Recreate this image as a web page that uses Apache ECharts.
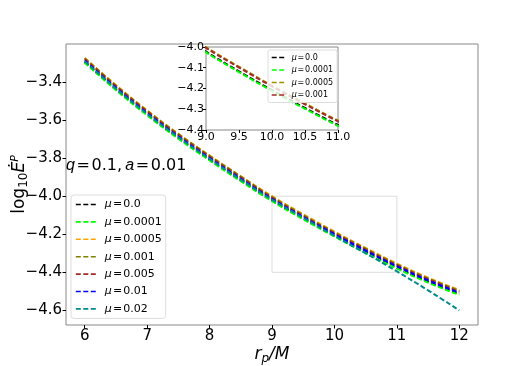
<!DOCTYPE html>
<html>
<head>
<meta charset="utf-8">
<script src="https://cdn.jsdelivr.net/npm/echarts@6/dist/echarts.min.js"></script>
<style>
  html, body { margin: 0; background: #fff; }
  #chart { width: 532px; height: 366px; }
</style>
</head>
<body>
<div id="chart"></div>
<script>
// orbital radius r_p/M
const rp = [6, 6.5, 7, 7.5, 8, 8.5, 9, 9.5, 10, 10.5, 11, 11.5, 12]
const xTicks = [6, 7, 8, 9, 10, 11, 12]
const yTicks = [-4.6, -4.4, -4.2, -4.0, -3.8, -3.6, -3.4]
const insetXTicks = [9, 9.5, 10, 10.5, 11]
const insetYTicks = [-4.4, -4.3, -4.2, -4.1, -4.0]
const muLabels = ['0.0', '0.0001', '0.0005', '0.001', '0.005', '0.01', '0.02']

// log10 of the flux, one array per mu
const mu0 = [-3.295, -3.438, -3.571, -3.694, -3.808, -3.917, -4.022, -4.117, -4.208, -4.294, -4.376, -4.450, -4.515]
const mu00001 = [-3.299, -3.442, -3.575, -3.698, -3.812, -3.921, -4.026, -4.121, -4.212, -4.298, -4.380, -4.454, -4.519]
const mu00005 = [-3.273, -3.416, -3.549, -3.672, -3.786, -3.895, -4.000, -4.095, -4.186, -4.272, -4.354, -4.428, -4.493]
const mu0001 = [-3.275, -3.418, -3.551, -3.674, -3.788, -3.897, -4.004, -4.099, -4.190, -4.276, -4.358, -4.432, -4.497]
const mu0005 = [-3.280, -3.423, -3.556, -3.679, -3.793, -3.902, -4.009, -4.104, -4.195, -4.281, -4.363, -4.437, -4.502]
const mu001 = [-3.287, -3.430, -3.563, -3.686, -3.800, -3.909, -4.014, -4.109, -4.200, -4.286, -4.368, -4.442, -4.507]
const mu002 = [-3.291, -3.434, -3.567, -3.690, -3.804, -3.913, -4.018, -4.113, -4.208, -4.300, -4.395, -4.495, -4.600]

// zoomed region shown in the inset: [xmin, xmax, ymin, ymax]
const zoomBox = [9, 11, -4.4, -4.0]

const mainSets = [mu0, mu00001, mu00005, mu0001, mu0005, mu001, mu002]
const mainColors = ['#000000', '#00ff00', '#ffa500', '#808000', '#a52a2a', '#0000ff', '#008b8b']
// the inset shows the first four curves, with its own colours
const insetSets = [mu0, mu00001, mu00005, mu0001]
const insetColors = ['#000000', '#00ff00', '#a09000', '#a52a2a']

const minus = (v, d) => (v < 0 ? '\u2212' : '') + Math.abs(v).toFixed(d)
const toPairs = arr => rp.map((r, i) => [r, arr[i]])

const series = []
mainSets.forEach((arr, k) => {
  series.push({
    name: 'μ=' + muLabels[k],
    type: 'line',
    xAxisIndex: 0,
    yAxisIndex: 0,
    data: toPairs(arr),
    smooth: true,
    symbol: 'none',
    color: mainColors[k],
    lineStyle: { width: 2, type: [5, 2.5], color: mainColors[k] },
    z: 2 + k,
    markArea: k === 0 ? {
      silent: true,
      itemStyle: { color: 'rgba(0,0,0,0)', borderColor: '#dddddd', borderWidth: 1 },
      data: [[{ coord: [zoomBox[0], zoomBox[2]] }, { coord: [zoomBox[1], zoomBox[3]] }]]
    } : undefined
  })
})
insetSets.forEach((arr, k) => {
  series.push({
    name: 'inset μ=' + muLabels[k],
    type: 'line',
    xAxisIndex: 1,
    yAxisIndex: 1,
    data: toPairs(arr),
    smooth: true,
    symbol: 'none',
    clip: true,
    color: insetColors[k],
    lineStyle: { width: 2, type: [5, 2.5], color: insetColors[k] },
    z: 20 + k
  })
})

const legendFmt = name => '{i|μ}\u200a=\u200a' + name.split('=')[1]

const chart = echarts.init(document.getElementById('chart'))
chart.setOption({
  animation: false,
  backgroundColor: '#fff',
  textStyle: { fontFamily: 'DejaVu Sans' },
  grid: [
    { left: 66, top: 44, width: 412, height: 281, outerBoundsMode: 'none', containLabel: false, show: true, borderColor: '#888', borderWidth: 1 },
    { left: 206, top: 47, width: 132, height: 83, outerBoundsMode: 'none', containLabel: false, show: true, borderColor: '#888', borderWidth: 1, backgroundColor: '#fff', z: 10 }
  ],
  xAxis: [
    {
      type: 'value', gridIndex: 0, min: 5.7, max: 12.3,
      splitLine: { show: false },
      axisLine: { show: false },
      axisTick: { show: true, length: 3.5, lineStyle: { color: '#000' }, customValues: xTicks },
      axisLabel: { color: '#000', fontSize: 15, margin: 4, customValues: xTicks, formatter: v => String(v) },
      name: '{i|r}{s|p}{i|/M}',
      nameLocation: 'middle',
      nameMoveOverlap: false,
      nameGap: 20,
      nameTextStyle: {
        rich: {
          i: { fontSize: 17, fontStyle: 'italic', color: '#000', verticalAlign: 'middle' },
          s: { fontSize: 12, fontStyle: 'italic', color: '#000', verticalAlign: 'bottom', padding: [8, 0, 0, 0] }
        }
      }
    },
    {
      type: 'value', gridIndex: 1, min: zoomBox[0], max: zoomBox[1],
      splitLine: { show: false },
      axisLine: { show: false },
      axisTick: { show: true, length: 3, lineStyle: { color: '#000' }, customValues: insetXTicks },
      axisLabel: { color: '#000', fontSize: 11, margin: 2, customValues: insetXTicks, formatter: v => v.toFixed(1) },
      z: 11
    }
  ],
  yAxis: [
    {
      type: 'value', gridIndex: 0, min: -4.677, max: -3.2,
      splitLine: { show: false },
      axisLine: { show: false },
      axisTick: { show: true, length: 3.5, lineStyle: { color: '#000' }, customValues: yTicks },
      axisLabel: { color: '#000', fontSize: 15, margin: 4, customValues: yTicks, formatter: v => minus(v, 1) },
      name: '{n|log}{s|10}{i|Ė}{p|P}',
      nameLocation: 'middle',
      nameRotate: 90,
      nameMoveOverlap: false,
      nameGap: 36,
      nameTextStyle: {
        rich: {
          n: { fontSize: 17, color: '#000', verticalAlign: 'middle' },
          s: { fontSize: 12, color: '#000', verticalAlign: 'bottom', padding: [8, 0, 0, 0] },
          i: { fontSize: 17, fontStyle: 'italic', color: '#000', verticalAlign: 'middle' },
          p: { fontSize: 11, fontStyle: 'italic', color: '#000', verticalAlign: 'top', padding: [0, 0, 8, 0] }
        }
      }
    },
    {
      type: 'value', gridIndex: 1, min: zoomBox[2], max: zoomBox[3],
      splitLine: { show: false },
      axisLine: { show: false },
      axisTick: { show: true, length: 3, lineStyle: { color: '#000' }, customValues: insetYTicks },
      axisLabel: { color: '#000', fontSize: 11, margin: 2, customValues: insetYTicks, formatter: v => minus(v, 1) },
      z: 11
    }
  ],
  legend: [
    {
      data: series.slice(0, 7).map(s => s.name),
      orient: 'vertical',
      left: 71, top: 195,
      itemWidth: 21, itemHeight: 8, itemGap: 4.4,
      padding: [3, 4, 3, 4],
      borderColor: '#dddddd', borderWidth: 1, borderRadius: 3,
      backgroundColor: 'rgba(255,255,255,0.8)',
      itemStyle: { opacity: 0 },
      lineStyle: { width: 1.6 },
      formatter: legendFmt,
      textStyle: {
        fontSize: 11, color: '#000', lineHeight: 13, padding: [0, 0, 0, 3],
        rich: { i: { fontSize: 11, fontStyle: 'italic', color: '#000', lineHeight: 13 } }
      }
    },
    {
      data: series.slice(7).map(s => s.name),
      orient: 'vertical',
      left: 268, top: 50,
      itemWidth: 15, itemHeight: 6, itemGap: 3.5,
      padding: [3, 4, 3, 3],
      borderColor: '#dddddd', borderWidth: 1, borderRadius: 2,
      backgroundColor: 'rgba(255,255,255,0.8)',
      itemStyle: { opacity: 0 },
      lineStyle: { width: 1.4 },
      formatter: legendFmt,
      z: 30,
      textStyle: {
        fontSize: 8, color: '#000', lineHeight: 9,
        rich: { i: { fontSize: 8, fontStyle: 'italic', color: '#000', lineHeight: 9 } }
      }
    }
  ],
  graphic: [
    {
      type: 'text',
      left: 66, top: 158,
      style: {
        text: '{i|q}\u200a=\u200a0.1,\u2009{i|a}\u200a=\u200a0.01',
        fontSize: 16, fill: '#000', fontFamily: 'DejaVu Sans',
        rich: { i: { fontSize: 16, fontStyle: 'italic', fill: '#000' } }
      }
    }
  ],
  series
})
</script>
</body>
</html>
